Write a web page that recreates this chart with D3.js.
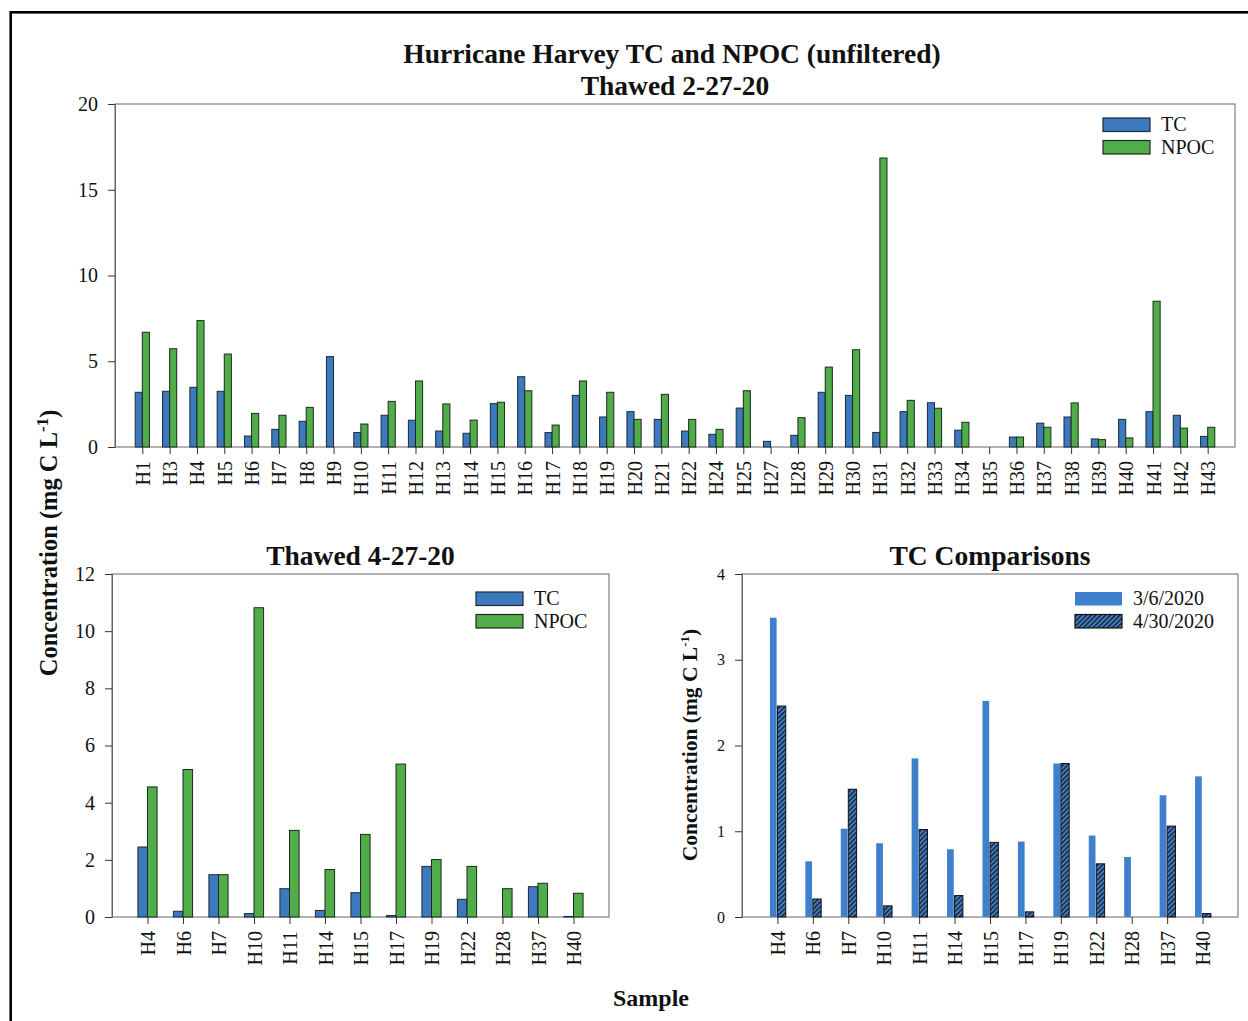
<!DOCTYPE html>
<html>
<head>
<meta charset="utf-8">
<script src="https://cdn.jsdelivr.net/npm/d3@7"></script>
<style>
  html, body { margin: 0; padding: 0; background: #fff; }
  svg { display: block; }
  text { font-family: "Liberation Serif", "Times New Roman", serif; fill: #111; }
</style>
</head>
<body>
<svg id="chart" width="1248" height="1021"></svg>
<script>
// ---- Thawed 2-27-20 (all samples) ----
const samplesA = ["H1","H3","H4","H5","H6","H7","H8","H9","H10","H11","H12","H13","H14","H15","H16","H17","H18","H19","H20","H21","H22","H24","H25","H27","H28","H29","H30","H31","H32","H33","H34","H35","H36","H37","H38","H39","H40","H41","H42","H43"];
const tcA   = [3.19,3.25,3.48,3.25,0.64,1.03,1.50,5.27,0.84,1.85,1.56,0.93,0.80,2.53,4.10,0.84,3.01,1.75,2.06,1.61,0.93,0.74,2.27,0.33,0.68,3.19,3.01,0.85,2.06,2.58,0.98,0,0.58,1.39,1.75,0.47,1.61,2.06,1.85,0.62];
const npocA = [6.69,5.73,7.37,5.42,1.96,1.85,2.31,0,1.34,2.66,3.85,2.51,1.57,2.61,3.28,1.28,3.85,3.19,1.61,3.07,1.61,1.03,3.28,0,1.71,4.66,5.67,16.85,2.72,2.26,1.44,0,0.58,1.15,2.57,0.43,0.53,8.50,1.10,1.15];
const ticksA = [0,5,10,15,20];

// ---- Thawed 4-27-20 (subset) ----
const samplesB = ["H4","H6","H7","H10","H11","H14","H15","H17","H19","H22","H28","H37","H40"];
const tcB   = [2.45,0.20,1.48,0.12,0.99,0.23,0.85,0.05,1.77,0.62,0,1.06,0.02];
const npocB = [4.55,5.16,1.48,10.82,3.03,1.66,2.89,5.35,2.01,1.77,0.99,1.18,0.83];
const ticksB = [0,2,4,6,8,10,12];

// ---- TC comparisons ----
const samplesC = ["H4","H6","H7","H10","H11","H14","H15","H17","H19","H22","H28","H37","H40"];
const tcMar = [3.49,0.65,1.03,0.86,1.85,0.79,2.52,0.88,1.79,0.95,0.70,1.42,1.64];
const tcApr = [2.46,0.21,1.49,0.13,1.02,0.25,0.87,0.06,1.79,0.62,0,1.06,0.04];
const ticksC = [0,1,2,3,4];

const seriesNames = ["TC","NPOC"];
const compNames = ["3/6/2020","4/30/2020"];

const BLUE = "#3d79bd";
const GREEN = "#50ad4a";
const LIGHTBLUE = "#3f80cc";
const FRAME = "#666";

const svg = d3.select("#chart");

// hatch for the 4/30 series
const defs = svg.append("defs");
const pat = defs.append("pattern")
  .attr("id", "hatch")
  .attr("patternUnits", "userSpaceOnUse")
  .attr("width", 3.4).attr("height", 3.4)
  .attr("patternTransform", "rotate(45)");
pat.append("rect").attr("width", 3.4).attr("height", 3.4).attr("fill", "#3d7cc6");
pat.append("rect").attr("width", 1.2).attr("height", 3.4).attr("fill", "#151515");

// outer frame
svg.append("rect")
  .attr("x", 10.7).attr("y", 12.3)
  .attr("width", 1300).attr("height", 1100)
  .attr("fill", "none").attr("stroke", "#000").attr("stroke-width", 2.6);

function panel(cfg) {
  const g = svg.append("g");
  const x = d3.scalePoint().domain(cfg.cats).range([cfg.left, cfg.right]).padding(1);
  const y = d3.scaleLinear().domain(cfg.domain).range([cfg.bottom, cfg.top]);
  const step = x.step();
  const w = step * cfg.barFrac;

  // plot box
  g.append("rect")
    .attr("x", cfg.left).attr("y", cfg.top)
    .attr("width", cfg.right - cfg.left).attr("height", cfg.bottom - cfg.top)
    .attr("fill", "none").attr("stroke", FRAME).attr("stroke-width", 1);

  // bars
  cfg.series.forEach((s, si) => {
    g.append("g").selectAll("rect")
      .data(s.values.map((v, i) => ({ c: cfg.cats[i], v })).filter(d => d.v > 0))
      .join("rect")
      .attr("x", d => x(d.c) + (si === 0 ? -w + (s.gap || 0) : 0))
      .attr("y", d => y(d.v))
      .attr("width", w - (s.gap || 0) * (si === 0 ? 2 : 0))
      .attr("height", d => y(0) - y(d.v))
      .attr("fill", s.fill)
      .attr("stroke", s.stroke)
      .attr("stroke-width", s.stroke === "none" ? 0 : 1);
  });

  // y axis
  const ya = g.append("g")
    .attr("transform", `translate(${cfg.left},0)`)
    .call(d3.axisLeft(y).tickValues(cfg.ticks).tickSize(7).tickPadding(cfg.yPad).tickFormat(d3.format("d")));
  ya.select(".domain").attr("stroke", FRAME);
  ya.selectAll(".tick line").attr("stroke", "#333");
  ya.selectAll(".tick text")
    .style("font-family", "Liberation Serif, serif")
    .style("font-size", cfg.yFont + "px").attr("fill", "#111");

  // x axis
  const xa = g.append("g")
    .attr("transform", `translate(0,${cfg.bottom})`)
    .call(d3.axisBottom(x).tickSize(7).tickSizeOuter(0));
  xa.select(".domain").remove();
  xa.selectAll(".tick line").attr("stroke", "#333");
  xa.selectAll(".tick text")
    .style("font-family", "Liberation Serif, serif")
    .style("font-size", "20px").attr("fill", "#111")
    .attr("text-anchor", "end")
    .attr("dy", "0.35em")
    .attr("transform", "translate(0,14) rotate(-90)")
    .attr("x", 0).attr("y", 0);

  // legend
  const lg = g.append("g").attr("transform", `translate(${cfg.legend[0]},${cfg.legend[1]})`);
  cfg.series.forEach((s, i) => {
    lg.append("rect")
      .attr("x", 0).attr("y", i * 22.5)
      .attr("width", 47).attr("height", 13.5)
      .attr("fill", s.fill)
      .attr("stroke", s.legendStroke)
      .attr("stroke-width", s.legendStroke === "none" ? 0 : 1.2);
    lg.append("text")
      .attr("x", 58).attr("y", i * 22.5 + 13)
      .style("font-size", "20px")
      .text(s.name);
  });

  // title
  g.append("text")
    .attr("x", (cfg.left + cfg.right) / 2).attr("y", cfg.titleY)
    .attr("text-anchor", "middle")
    .style("font-size", "27.5px").style("font-weight", "bold")
    .text(cfg.title);
  return { x, y };
}

panel({
  cats: samplesA, left: 115, right: 1235, top: 104, bottom: 447,
  domain: [0, 20], ticks: ticksA, barFrac: 0.26, yFont: 20, yPad: 10,
  series: [
    { name: seriesNames[0], values: tcA, fill: BLUE, stroke: "#1c2a3a", legendStroke: "#1c2a3a" },
    { name: seriesNames[1], values: npocA, fill: GREEN, stroke: "#1c2a1c", legendStroke: "#1c2a1c" }
  ],
  legend: [1103, 118], title: "Thawed 2-27-20", titleY: 95
});

panel({
  cats: samplesB, left: 112, right: 609, top: 574, bottom: 917,
  domain: [0, 12], ticks: ticksB, barFrac: 0.27, yFont: 20, yPad: 10,
  series: [
    { name: seriesNames[0], values: tcB, fill: BLUE, stroke: "#1c2a3a", legendStroke: "#1c2a3a" },
    { name: seriesNames[1], values: npocB, fill: GREEN, stroke: "#1c2a1c", legendStroke: "#1c2a1c" }
  ],
  legend: [476, 592], title: "Thawed 4-27-20", titleY: 565
});

panel({
  cats: samplesC, left: 742, right: 1238, top: 574, bottom: 917,
  domain: [0, 4], ticks: ticksC, barFrac: 0.235, yFont: 16, yPad: 10,
  series: [
    { name: compNames[0], values: tcMar, fill: LIGHTBLUE, stroke: "none", legendStroke: "none", gap: 0.8 },
    { name: compNames[1], values: tcApr, fill: "url(#hatch)", stroke: "#111", legendStroke: "#111" }
  ],
  legend: [1075, 592], title: "TC Comparisons", titleY: 565
});

// main title
svg.append("text")
  .attr("x", 672).attr("y", 63)
  .attr("text-anchor", "middle")
  .style("font-size", "27.5px").style("font-weight", "bold")
  .text("Hurricane Harvey TC and NPOC (unfiltered)");

// shared y label
const yl = svg.append("text")
  .attr("transform", "translate(57,543) rotate(-90)")
  .attr("text-anchor", "middle")
  .style("font-size", "24.5px").style("font-weight", "bold");
yl.append("tspan").text("Concentration (mg C L");
yl.append("tspan").attr("dy", -9).style("font-size", "17px").text("-1");
yl.append("tspan").attr("dy", 9).text(")");

// comparison y label
const yl2 = svg.append("text")
  .attr("transform", "translate(697,745) rotate(-90)")
  .attr("text-anchor", "middle")
  .style("font-size", "21.5px").style("font-weight", "bold");
yl2.append("tspan").text("Concentration (mg C L");
yl2.append("tspan").attr("dy", -8).style("font-size", "13px").text("-1");
yl2.append("tspan").attr("dy", 8).text(")");

// x label
svg.append("text")
  .attr("x", 651).attr("y", 1006)
  .attr("text-anchor", "middle")
  .style("font-size", "24px").style("font-weight", "bold")
  .text("Sample");
</script>
</body>
</html>
